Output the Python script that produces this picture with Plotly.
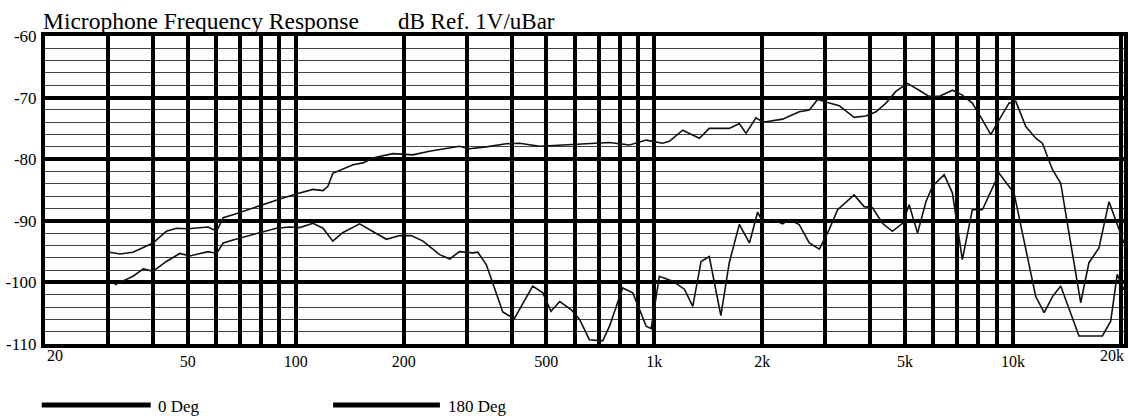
import numpy as np
import plotly.graph_objects as go

# ---------------- data ----------------
deg0_freq = [30.3, 32.4, 35.2, 40, 43.6, 46.5, 50, 53.5, 57, 60.2, 62.8, 66.9, 76.1, 82.9, 92.2,
             102.6, 111.7, 119.2, 123, 126.9, 135.5, 144.5, 154, 164, 186.7, 212, 236, 263, 286,
             305, 340, 386, 421, 479, 545, 619, 750, 853, 949, 1055, 1101, 1200, 1336, 1423,
             1618, 1726, 1802, 1920, 2010, 2279, 2535, 2705, 2853, 3042, 3278, 3607, 3890, 4150,
             4425, 4715, 5080, 5475, 5835, 6220, 6780, 7225, 7705, 8220, 8670, 9150, 9750, 10180,
             10860, 11575, 12080, 12890, 13590, 14330, 15450, 16290, 17370, 18530, 19770, 20400]
deg0_db = [-95.1, -95.4, -95.1, -93.6, -91.7, -91.2, -91.3, -91.2, -91.0, -91.7, -89.5, -89.0, -87.9,
           -87.2, -86.3, -85.5, -84.9, -85.1, -84.4, -82.3, -81.6, -80.9, -80.6, -79.8, -79.1, -79.3,
           -78.7, -78.2, -77.9, -78.3, -78.0, -77.5, -77.4, -77.9, -77.7, -77.5, -77.3, -77.7, -76.9,
           -77.4, -77.1, -75.3, -76.6, -75.0, -75.0, -74.2, -75.8, -73.3, -74.0, -73.5, -72.3, -72.0,
           -70.3, -70.8, -71.3, -73.2, -73.0, -72.3, -70.9, -69.0, -67.7, -68.8, -69.8, -69.8, -68.8,
           -69.6, -70.9, -73.6, -76.0, -73.6, -70.9, -70.6, -74.7, -76.6, -77.4, -81.7, -83.9, -92.0,
           -103.3, -96.8, -94.4, -86.9, -91.2, -93.6]

deg180_freq = [31.3, 33.0, 35.2, 37.6, 40, 43.6, 47.5, 50.7, 54.0, 57, 60.2, 62.8, 66.9, 74.5, 82.9,
               88.4, 96.3, 102.6, 111.7, 119.2, 126.9, 135.5, 150.8, 164, 179, 195, 210, 226.5, 252,
               269, 286, 312, 322, 340, 378, 407, 458, 489, 515, 545, 586, 619, 659, 718, 750, 816,
               871, 949, 980, 1033, 1125, 1213, 1280, 1350, 1423, 1533, 1618, 1726, 1842, 1941, 2010,
               2137, 2279, 2377, 2535, 2705, 2885, 3075, 3244, 3607, 3847, 4060, 4325, 4610, 4920,
               5135, 5420, 5720, 5965, 6430, 6780, 7225, 7705, 8220, 9150, 10070, 10610, 11080,
               11575, 12220, 12890, 13590, 15280, 17760, 18730, 19530, 20400]
deg180_db = [-100.4, -99.8, -99.0, -97.8, -98.2, -96.6, -95.3, -95.7, -95.3, -95.0, -95.3, -93.6, -93.1,
             -92.4, -91.7, -91.2, -91.0, -91.1, -90.4, -91.2, -93.3, -91.9, -90.5, -91.7, -93.0, -92.4,
             -92.4, -93.3, -95.5, -96.2, -95.0, -95.2, -95.1, -97.1, -104.8, -105.9, -100.6, -101.7,
             -104.7, -103.1, -104.4, -106.0, -109.3, -109.5, -107.1, -100.9, -101.7, -107.1, -107.5,
             -99.0, -99.8, -101.1, -103.9, -96.6, -95.8, -105.4, -96.8, -90.6, -93.6, -88.6, -90.3,
             -89.8, -90.5, -89.8, -90.6, -93.6, -94.6, -91.4, -88.2, -85.8, -87.7, -87.9, -90.4, -91.7,
             -90.4, -87.4, -92.0, -86.9, -84.4, -82.5, -85.5, -96.3, -88.2, -88.2, -82.3, -85.5, -92.0,
             -97.4, -102.3, -104.9, -102.3, -100.6, -108.7, -108.7, -106.3, -98.7, -101.2]

grid_freqs = [30, 40, 50, 60, 70, 80, 90, 100, 200, 300, 400, 500, 600, 700, 800, 900,
              1000, 2000, 3000, 4000, 5000, 6000, 7000, 8000, 9000, 10000, 20000]
grid_labels = {50: "50", 100: "100", 200: "200", 500: "500", 1000: "1k",
               2000: "2k", 5000: "5k", 10000: "10k"}
edge_labels = [(20, "20", 10), (20000, "20k", -9)]
y_ticks = [-60, -70, -80, -90, -100, -110]

title_left = "Microphone Frequency Response"
title_right = "dB Ref. 1V/uBar"
legend_names = ["0 Deg", "180 Deg"]

# ---------------- figure ----------------
SERIF = "Liberation Serif, Times New Roman, serif"
fig = go.Figure()
fig.add_trace(go.Scatter(x=deg0_freq, y=deg0_db, mode="lines", name=legend_names[0],
                         line=dict(color="#111", width=1.6), showlegend=False))
fig.add_trace(go.Scatter(x=deg180_freq, y=deg180_db, mode="lines", name=legend_names[1],
                         line=dict(color="#111", width=1.6), showlegend=False))

fig.update_xaxes(
    type="log", range=[np.log10(20), np.log10(20400)],
    tickmode="array", tickvals=grid_freqs,
    ticktext=[grid_labels.get(f, "") for f in grid_freqs],
    showgrid=True, gridcolor="#000", gridwidth=4,
    showline=True, linecolor="#000", linewidth=4, mirror=True,
    ticks="", ticklabelstandoff=0, automargin=False,
    tickfont=dict(family=SERIF, size=16, color="#000"),
    zeroline=False,
)
fig.update_yaxes(
    range=[-110, -60], tickmode="array", tickvals=y_ticks,
    ticktext=[str(v) for v in y_ticks],
    showgrid=True, gridcolor="#000", gridwidth=4,
    minor=dict(dtick=2, showgrid=True, gridcolor="#444", gridwidth=1.2),
    showline=True, linecolor="#000", linewidth=4, mirror=True,
    ticks="", ticklabelstandoff=1, automargin=False,
    tickfont=dict(family=SERIF, size=17, color="#000"),
    zeroline=False,
)

annotations = []
for f, txt, shift in edge_labels:
    annotations.append(dict(x=np.log10(f), y=0, xref="x", yref="paper", text=txt,
                            showarrow=False, yanchor="top", xshift=shift, yshift=-1,
                            font=dict(family=SERIF, size=16, color="#000")))
annotations.append(dict(x=0, y=1, xref="paper", yref="paper", text=title_left, showarrow=False,
                        xanchor="left", yanchor="bottom", xshift=-4, yshift=-0.5,
                        font=dict(family=SERIF, size=23.5, color="#000")))
annotations.append(dict(x=0.325, y=1, xref="paper", yref="paper", text=title_right, showarrow=False,
                        xanchor="left", yanchor="bottom", yshift=-0.5,
                        font=dict(family=SERIF, size=23, color="#000")))

# legend drawn manually (long thick samples as in the original)
shapes = []
leg_y = -0.198
for (x0, x1, tx), name in zip([(-0.003, 0.098, 0.103), (0.267, 0.366, 0.372)], legend_names):
    shapes.append(dict(type="line", xref="paper", yref="paper", x0=x0, x1=x1, y0=leg_y, y1=leg_y,
                       line=dict(color="#000", width=5)))
    annotations.append(dict(x=tx, y=leg_y, xref="paper", yref="paper", text=name, showarrow=False,
                            xanchor="left", yanchor="middle", yshift=-2,
                            font=dict(family=SERIF, size=17, color="#000")))

fig.update_layout(
    width=1131, height=416,
    margin=dict(l=45, r=7, t=36, b=72, autoexpand=False),
    paper_bgcolor="#fff", plot_bgcolor="#fff",
    annotations=annotations, shapes=shapes,
    showlegend=False,
)
fig.write_html("out.html", config={"displayModeBar": False},
               post_script="document.body.style.margin='0px';")
